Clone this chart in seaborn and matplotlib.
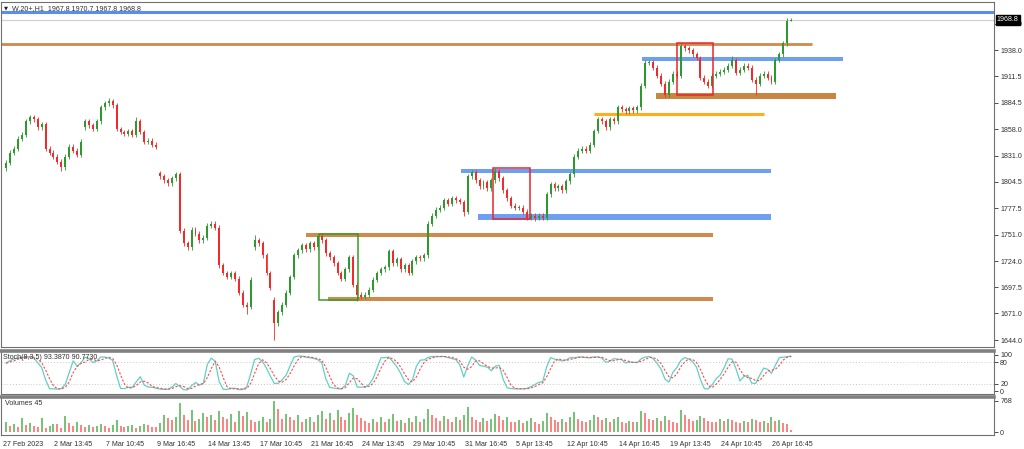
import numpy as np
import pandas as pd
import matplotlib
matplotlib.use("Agg")
import matplotlib.pyplot as plt
import seaborn as sns

# H1 closes (every bar ~2h of the picture)
closes = [
    1824, 1834, 1838, 1848, 1852, 1866, 1870, 1868, 1860, 1863,
    1838, 1834, 1830, 1825, 1819, 1830, 1840, 1836, 1832, 1845,
    1866, 1862, 1858, 1866, 1880, 1884, 1886, 1882, 1858, 1855,
    1853, 1856, 1852, 1866, 1855, 1845, 1846, 1842, 1840, 1810,
    1806, 1803, 1808, 1812, 1755, 1742, 1738, 1756, 1752, 1745,
    1748, 1760, 1762, 1758, 1720, 1712, 1708, 1712, 1706, 1692,
    1680, 1678, 1705, 1745, 1742, 1730, 1712, 1697, 1661, 1672,
    1680, 1692, 1708, 1730, 1735, 1740, 1736, 1742, 1738, 1750,
    1745, 1732, 1728, 1722, 1712, 1706, 1716, 1728, 1700, 1690,
    1688, 1690, 1695, 1705, 1712, 1716, 1718, 1734, 1722, 1726,
    1716, 1720, 1712, 1724, 1728, 1727, 1730, 1762, 1770, 1776,
    1778, 1786, 1782, 1788, 1786, 1784, 1774, 1810, 1814, 1806,
    1800, 1804, 1798, 1806, 1815, 1808, 1796, 1788, 1780, 1778,
    1778, 1774, 1768, 1770, 1768, 1770, 1768, 1792, 1802, 1798,
    1800, 1796, 1805, 1812, 1830, 1836, 1838, 1836, 1842, 1856,
    1868, 1866, 1860, 1868, 1866, 1880, 1878, 1876, 1879, 1877,
    1880, 1902, 1925, 1926, 1920, 1912, 1904, 1893, 1906, 1914,
    1912, 1942, 1940, 1938, 1934, 1930, 1910, 1906, 1902, 1912,
    1914, 1916, 1918, 1922, 1928, 1915, 1918, 1922, 1920, 1908,
    1904, 1912, 1914, 1910, 1906, 1928, 1934, 1945, 1967.8, 1968.8,
]
first_open = 1818
gap_opens = {20: 1860, 39: 1813, 63: 1738, 68: 1685, 199: 1967.8}
wick_highs = {26: 1889, 33: 1870, 63: 1751, 79: 1752, 124: 1818, 171: 1945,
              184: 1932, 199: 1970.7}
wick_lows = {14: 1815, 61: 1670, 68: 1644, 89: 1684, 116: 1770, 134: 1765,
             167: 1890, 190: 1893, 199: 1967.8}

volumes = [
    240, 150, 190, 120, 350, 170, 230, 160, 120, 350,
    110, 140, 200, 200, 110, 390, 230, 140, 260, 180,
    130, 170, 120, 150, 200, 140, 110, 180, 300, 160,
    120, 140, 180, 110, 150, 200, 170, 130, 120, 220,
    410, 350, 300, 380, 715,
    430, 300, 540, 280, 320,
    480, 360, 420, 300, 520, 380, 330, 440, 260,
    530, 400, 500, 290,
    250, 280, 370, 240, 330, 760,
    560, 320, 450, 380, 300, 420, 260,
    310, 380, 250, 420, 520, 330, 460, 290, 540, 380,
    300, 470, 600, 420, 350, 280, 230, 310, 260, 380,
    240, 330, 450, 270,
    300, 220, 340, 260, 390, 250, 310, 560, 430, 350,
    280, 400, 330, 260, 360, 300, 420, 620, 380, 300,
    260, 350, 280, 330, 450, 390, 300, 360, 260, 240, 300,
    220, 280, 340, 250, 200, 270, 480, 360, 300, 240,
    310, 260, 380, 500, 330, 280, 250, 300, 420, 380,
    300, 340, 260, 310, 380, 250, 220, 280, 240, 260,
    520, 460, 330, 300, 350, 280, 400, 300, 250, 220,
    540, 420, 330, 280, 300, 400, 350, 280, 260, 240,
    310, 270, 320, 300, 250, 220, 280, 240, 320,
    300, 250, 280, 230, 360, 280, 300, 220, 210, 45,
]

time_labels = ["27 Feb 2023", "2 Mar 13:45", "7 Mar 10:45", "9 Mar 16:45",
               "14 Mar 13:45", "17 Mar 10:45", "21 Mar 16:45", "24 Mar 13:45",
               "29 Mar 10:45", "31 Mar 16:45", "5 Apr 13:45", "12 Apr 10:45",
               "14 Apr 16:45", "19 Apr 13:45", "24 Apr 10:45", "26 Apr 16:45"]
price_ticks = [1644.0, 1671.0, 1697.5, 1724.0, 1751.0, 1777.5, 1804.5,
               1831.0, 1858.0, 1884.5, 1911.5, 1938.0, 1965.0]

# drawn objects: price level, from bar, to bar
levels = [
    (1976.6, -3, 255, "#5b8def", 2.2),
    (1944.0, -3, 204.3, "#cf8a4e", 2.0),
    (1929.0, 161.3, 212.2, "#6f9ff0", 2.9),
    (1891.0, 164.8, 210.4, "#c98642", 4.3),
    (1873.0, 149.1, 192.2, "#ffad1f", 2.2),
    (1815.0, 115.4, 193.9, "#6f9ff0", 2.9),
    (1769.0, 119.7, 193.9, "#6f9ff0", 4.3),
    (1751.0, 75.9, 179.2, "#cf8a4e", 2.9),
    (1686.0, 81.5, 179.2, "#cf8a4e", 2.9),
]
boxes = [
    (79.2, 89.1, 1685, 1752, "#3a9a2a"),
    (123.5, 132.9, 1767, 1818, "#e8262c"),
    (170.1, 179.2, 1893, 1945, "#e8262c"),
]

sns.set_style("white")
plt.rcParams["font.family"] = ["Liberation Sans", "DejaVu Sans"]
FS = 5.1

n = len(closes)
idx = np.arange(n)
opens = [first_open] + closes[:-1]
for i, v in gap_opens.items():
    opens[i] = v
df = pd.DataFrame({"open": opens, "close": closes, "volume": volumes})
df["high"] = df[["open", "close"]].max(axis=1) + 2.5
df["low"] = df[["open", "close"]].min(axis=1) - 2.5
for i, v in wick_highs.items():
    df.loc[i, "high"] = v
for i, v in wick_lows.items():
    df.loc[i, "low"] = v

# Stoch(8,3,5) on H1; each bar here stands for about two hours
ll = df["low"].rolling(6, min_periods=1).min()
hh = df["high"].rolling(6, min_periods=1).max()
num = (df["close"] - ll).rolling(2, min_periods=1).sum()
den = (hh - ll).rolling(2, min_periods=1).sum()
df["k"] = 100 * num / den
df["d"] = df["k"].rolling(3, min_periods=1).mean()

up = df["close"] >= df["open"]
cand_col = np.where(up, "#2c9a2c", "#f42a2a")

fig = plt.figure(figsize=(10.24, 4.49), dpi=100)
W, H = 1024, 449
right = 994 / W
ax_p = fig.add_axes([1 / W, 1 - 347 / H, right - 1 / W, 345 / H])
ax_s = fig.add_axes([1 / W, 1 - 394 / H, right - 1 / W, 43 / H])
ax_v = fig.add_axes([1 / W, 1 - 435 / H, right - 1 / W, 38 / H])

xlim = (-1.3, 250.4)
tick_kw = dict(labelsize=FS, length=3, width=0.6, colors="#303030", pad=1.5)

# ---- price panel
ax_p.axhline(1968.8, color="#cfcfcf", lw=0.8)
for price, x0, x1, col, lw in levels:
    ax_p.hlines(price, x0, x1, colors=col, lw=lw, zorder=2)
for x0, x1, lo, hi, col in boxes:
    ax_p.add_patch(plt.Rectangle((x0, lo), x1 - x0, hi - lo, fill=False,
                                 edgecolor=col, lw=1.1, zorder=4))
ax_p.vlines(idx, df["low"], df["high"], colors=cand_col, lw=0.6, zorder=3)
body = (df["close"] - df["open"]).abs().clip(lower=0.8)
ax_p.bar(idx, body, bottom=df[["open", "close"]].min(axis=1), width=0.5,
         color=cand_col, linewidth=0, zorder=3)
ax_p.set_xlim(xlim)
ax_p.set_ylim(1637.0, 1986.8)
ax_p.yaxis.tick_right()
ax_p.set_yticks(price_ticks)
ax_p.set_yticklabels([f"{t:.1f}" for t in price_ticks])
ax_p.tick_params(axis="y", **tick_kw)
ax_p.set_xticks([])
ax_p.text(1.003, 1968.8, "1968.8", transform=ax_p.get_yaxis_transform(),
          va="center", ha="left", fontsize=FS, color="white", zorder=10,
          bbox=dict(boxstyle="square,pad=0.2", fc="black", ec="black"))
ax_p.text(0.003, 0.982, "\u25bc", transform=ax_p.transAxes, fontsize=3.8,
          va="center", ha="left", color="#202020", family="DejaVu Sans")
ax_p.text(0.011, 0.982, "W.20+,H1  1967.8 1970.7 1967.8 1968.8",
          transform=ax_p.transAxes, fontsize=FS, va="center", ha="left",
          color="#303030")

# ---- stochastic panel
for lv in (20, 80):
    ax_s.axhline(lv, color="#c8c8c8", lw=0.7, ls=(0, (1, 2)))
sns.lineplot(x=idx, y=df["k"], ax=ax_s, color="#62d0c6", lw=0.9)
sns.lineplot(x=idx, y=df["d"], ax=ax_s, color="#ff4a4a", lw=0.8,
             linestyle=(0, (2, 1.5)))
ax_s.set_xlim(xlim)
ax_s.set_ylim(-8.3, 111)
ax_s.yaxis.tick_right()
ax_s.set_yticks([0, 20, 80, 100])
ax_s.tick_params(axis="y", **tick_kw)
ax_s.set_xticks([])
ax_s.set_xlabel("")
ax_s.set_ylabel("")
ax_s.text(0.002, 0.86, "Stoch(8,3,5) 93.3870 90.7730", transform=ax_s.transAxes,
          fontsize=FS, va="center", ha="left", color="#303030")

# ---- volume panel
vol_up = df["volume"] > df["volume"].shift(1).fillna(0)
vol_col = np.where(vol_up, "#5cb85c", "#ff6b6b")
ax_v.vlines(idx, 0, df["volume"], colors=vol_col, lw=1.2)
ax_v.set_xlim(xlim)
ax_v.set_ylim(-74, 867)
ax_v.yaxis.tick_right()
ax_v.set_yticks([0, 768])
ax_v.tick_params(axis="y", **tick_kw)
ax_v.set_xticks(np.arange(len(time_labels)) * 13 - 0.75)
ax_v.set_xticklabels(time_labels, ha="left")
ax_v.tick_params(axis="x", labelsize=FS, length=3, width=0.6,
                 colors="#303030", pad=1.5)
ax_v.text(0.004, 0.84, "Volumes 45", transform=ax_v.transAxes,
          fontsize=FS, va="center", ha="left", color="#303030")

for ax in (ax_p, ax_s, ax_v):
    for sp in ax.spines.values():
        sp.set_color("#707070")
        sp.set_linewidth(0.8)
for ax in (ax_s, ax_v):
    ax.spines["top"].set_linewidth(2.6)
    ax.spines["top"].set_color("#808080")

fig.savefig("out.png", dpi=100)
